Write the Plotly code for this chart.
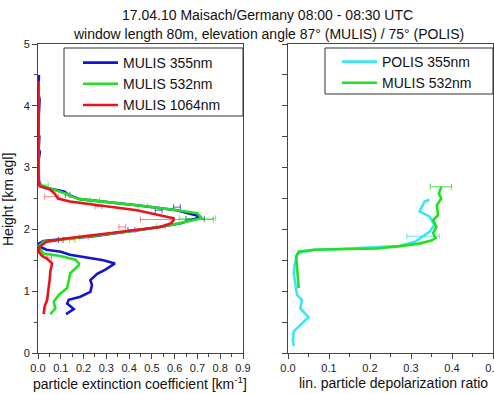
import plotly.graph_objects as go

# ---------------- data ----------------
# Left panel: particle extinction coefficient [km-1] vs height [km agl]
h355 = [0.63, 0.71, 0.80, 0.86, 0.91, 0.99, 1.10, 1.18, 1.28, 1.35, 1.45, 1.50, 1.59, 1.64, 1.67, 1.72,
        1.77, 1.81, 1.84, 1.89, 1.98, 2.03, 2.10, 2.17, 2.21, 2.31, 2.39, 2.49, 2.56, 2.61, 2.66, 2.72,
        2.80, 2.95, 3.10, 3.25, 3.30, 3.50, 3.55, 3.80, 4.10, 4.20, 4.45, 4.50]
e355 = [0.123, 0.157, 0.128, 0.135, 0.186, 0.23, 0.237, 0.23, 0.26, 0.296, 0.338, 0.287, 0.14, 0.10, 0.037,
        0.009, 0.003, 0.025, 0.098, 0.245, 0.42, 0.52, 0.626, 0.69, 0.713, 0.61, 0.434, 0.184, 0.132, 0.117,
        0.051, 0.007, 0.004, 0.002, 0.002, 0.008, 0.003, 0.006, 0.002, 0.003, 0.007, 0.002, 0.006, 0.004]

h532 = [0.63, 0.72, 0.83, 0.94, 1.05, 1.18, 1.29, 1.42, 1.45, 1.51, 1.57, 1.61, 1.67, 1.72, 1.80, 1.85,
        1.91, 1.99, 2.09, 2.18, 2.26, 2.31, 2.39, 2.49, 2.53, 2.58, 2.65, 2.70, 2.75, 2.90, 3.10, 3.40,
        3.70, 4.00, 4.20, 4.40]
e532 = [0.054, 0.076, 0.069, 0.091, 0.128, 0.135, 0.142, 0.179, 0.18, 0.164, 0.098, 0.025, 0.011, 0.0,
        0.025, 0.128, 0.274, 0.45, 0.61, 0.72, 0.70, 0.61, 0.434, 0.184, 0.15, 0.12, 0.06, 0.02, 0.003,
        0.003, 0.002, 0.004, 0.002, 0.003, 0.002, 0.002]

h1064 = [0.63, 0.75, 0.86, 1.02, 1.18, 1.32, 1.45, 1.50, 1.53, 1.57, 1.64, 1.72, 1.80, 1.86, 1.96, 2.04,
         2.10, 2.15, 2.18, 2.31, 2.45, 2.50, 2.58, 2.65, 2.70, 2.80, 3.00, 3.30, 3.60, 3.90, 4.20, 4.40]
e1064 = [0.025, 0.029, 0.040, 0.047, 0.051, 0.054, 0.062, 0.047, 0.037, 0.018, 0.003, 0.007, 0.037, 0.14,
         0.36, 0.537, 0.585, 0.595, 0.595, 0.434, 0.14, 0.088, 0.073, 0.051, 0.007, 0.003, 0.002, 0.003,
         0.002, 0.003, 0.002, 0.002]

# error bars (left panel)
err355_h = [1.83, 1.99, 2.17, 2.31, 2.36, 2.56]
err355_x = [0.10, 0.41, 0.69, 0.53, 0.61, 0.13]
err355_d = [0.01, 0.015, 0.04, 0.015, 0.015, 0.01]
err532_h = [1.83, 2.05, 2.18, 2.38, 2.47, 2.72]
err532_x = [0.15, 0.54, 0.70, 0.46, 0.25, 0.03]
err532_d = [0.012, 0.02, 0.08, 0.02, 0.02, 0.015]
err1064_h = [1.55, 1.87, 2.04, 2.16, 2.37, 2.53]
err1064_x = [0.05, 0.20, 0.37, 0.61, 0.265, 0.059]
err1064_d = [0.01, 0.02, 0.015, 0.16, 0.015, 0.03]

# Right panel: linear particle depolarization ratio vs height
hpol = [0.11, 0.21, 0.35, 0.45, 0.58, 0.72, 0.86, 0.94, 1.10, 1.29, 1.42, 1.53, 1.60, 1.64, 1.67, 1.69,
        1.73, 1.80, 1.88, 1.96, 2.07, 2.21, 2.29, 2.45, 2.48]
dpol = [0.014, 0.012, 0.014, 0.03, 0.05, 0.03, 0.034, 0.022, 0.018, 0.014, 0.016, 0.02, 0.022, 0.038,
        0.066, 0.15, 0.27, 0.31, 0.329, 0.345, 0.357, 0.345, 0.321, 0.333, 0.345]
hmul = [1.05, 1.18, 1.40, 1.56, 1.64, 1.67, 1.68, 1.69, 1.73, 1.77, 1.82, 1.86, 1.94, 2.04, 2.15, 2.23,
        2.39, 2.50, 2.58, 2.69]
dmul = [0.026, 0.024, 0.022, 0.02, 0.026, 0.062, 0.135, 0.216, 0.273, 0.32, 0.35, 0.36, 0.354, 0.362,
        0.354, 0.366, 0.363, 0.374, 0.368, 0.374]
errpol_h = [1.89]
errpol_x = [0.33]
errpol_d = [0.04]
errmul_h = [2.69]
errmul_x = [0.373]
errmul_d = [0.026]

title1 = "17.04.10 Maisach/Germany 08:00 - 08:30 UTC"
title2 = "window length 80m, elevation angle 87° (MULIS) / 75° (POLIS)"

# ---------------- styling ----------------
BLUE = "#1414d2"
GREEN = "#22e022"
RED = "#e8141c"
CYAN = "#3ae6f4"
FONT = "Liberation Sans, Arial, sans-serif"
W, H = 494, 394

def px_x(p):
    return p / W

def px_y(p):
    return 1 - p / H

fig = go.Figure()

def err_trace(xs, ys, ds, color, xa, ya):
    return go.Scatter(x=xs, y=ys, mode="markers", marker=dict(size=1, color=color, opacity=0),
                      error_x=dict(type="data", array=ds, color=color, thickness=1, width=3),
                      showlegend=False, hoverinfo="skip", xaxis=xa, yaxis=ya)

fig.add_trace(err_trace(err355_x, err355_h, err355_d, "rgba(20,20,210,0.7)", "x", "y"))
fig.add_trace(err_trace(err532_x, err532_h, err532_d, "rgba(34,224,34,0.6)", "x", "y"))
fig.add_trace(err_trace(err1064_x, err1064_h, err1064_d, "rgba(232,20,28,0.5)", "x", "y"))

fig.add_trace(go.Scatter(x=e355, y=h355, mode="lines", name="MULIS 355nm",
                         line=dict(color=BLUE, width=2.6), xaxis="x", yaxis="y", legend="legend"))
fig.add_trace(go.Scatter(x=e532, y=h532, mode="lines", name="MULIS 532nm",
                         line=dict(color=GREEN, width=2.6), xaxis="x", yaxis="y", legend="legend"))
fig.add_trace(go.Scatter(x=e1064, y=h1064, mode="lines", name="MULIS 1064nm",
                         line=dict(color=RED, width=2.6), xaxis="x", yaxis="y", legend="legend"))

fig.add_trace(err_trace(errpol_x, errpol_h, errpol_d, "rgba(58,230,244,0.8)", "x2", "y2"))
fig.add_trace(err_trace(errmul_x, errmul_h, errmul_d, "rgba(34,224,34,0.8)", "x2", "y2"))
fig.add_trace(go.Scatter(x=dpol, y=hpol, mode="lines", name="POLIS 355nm",
                         line=dict(color=CYAN, width=2.6), xaxis="x2", yaxis="y2", legend="legend2"))
fig.add_trace(go.Scatter(x=dmul, y=hmul, mode="lines", name="MULIS 532nm",
                         line=dict(color=GREEN, width=2.6), xaxis="x2", yaxis="y2", legend="legend2"))

ydom = [px_y(353), px_y(44)]
common = dict(showline=True, linecolor="#444", linewidth=1, mirror=True, ticks="outside",
              ticklen=5, tickcolor="#444", showgrid=False, zeroline=False, automargin=False,
              ticklabeloverflow="allow",
              tickfont=dict(size=11, color="#222", family=FONT))

legend_common = dict(xanchor="left", yanchor="top", borderwidth=0, bgcolor="rgba(0,0,0,0)",
                     font=dict(size=14, family=FONT, color="#111"), tracegroupgap=0, itemwidth=35)

fig.update_layout(
    width=W, height=H, margin=dict(l=0, r=0, t=0, b=0, pad=0, autoexpand=False),
    paper_bgcolor="white", plot_bgcolor="white",
    font=dict(family=FONT, color="#111"),
    xaxis=dict(domain=[px_x(38), px_x(243)], range=[0, 0.9], dtick=0.1, tickformat=".1f",
               minor=dict(dtick=0.05, ticks="outside", ticklen=3, tickcolor="#444"), anchor="y", **common),
    yaxis=dict(domain=ydom, range=[0, 5], dtick=1,
               minor=dict(dtick=0.5, ticks="outside", ticklen=3, tickcolor="#444"), anchor="x", **common),
    xaxis2=dict(domain=[px_x(288), px_x(493)], range=[0, 0.5], dtick=0.1, tickformat=".1f",
                minor=dict(dtick=0.05, ticks="outside", ticklen=3, tickcolor="#444"), anchor="y2", **common),
    yaxis2=dict(domain=ydom, range=[0, 5], dtick=0.5, showticklabels=False, anchor="x2", **common),
    legend=dict(x=px_x(78), y=px_y(47), **legend_common),
    legend2=dict(x=px_x(337), y=px_y(46), **legend_common),
    showlegend=True,
    shapes=[
        dict(type="rect", xref="paper", yref="paper", x0=px_x(64), x1=px_x(243), y0=px_y(116), y1=px_y(48),
             line=dict(color="#333", width=1), fillcolor="white", layer="above"),
        dict(type="rect", xref="paper", yref="paper", x0=px_x(325), x1=px_x(493), y0=px_y(94), y1=px_y(48),
             line=dict(color="#333", width=1), fillcolor="white", layer="above"),
    ],
)

ann = [
    dict(text=title1, x=px_x(267), y=px_y(15), xanchor="center", yanchor="middle", font=dict(size=14)),
    dict(text=title2, x=px_x(268), y=px_y(34), xanchor="center", yanchor="middle", font=dict(size=14)),
    dict(text="Height [km agl]", x=px_x(8), y=px_y(200), textangle=-90, xanchor="center", yanchor="middle",
         font=dict(size=14)),
    dict(text="particle extinction coefficient [km<sup>-1</sup>]", x=px_x(140), y=px_y(383),
         xanchor="center", yanchor="middle", font=dict(size=14)),
    dict(text="lin. particle depolarization ratio", x=px_x(393), y=px_y(383),
         xanchor="center", yanchor="middle", font=dict(size=14)),
]
for a in ann:
    a.update(xref="paper", yref="paper", showarrow=False)
    a["font"].update(family=FONT, color="#111")
fig.update_layout(annotations=ann)

fig.write_html("out.html")
